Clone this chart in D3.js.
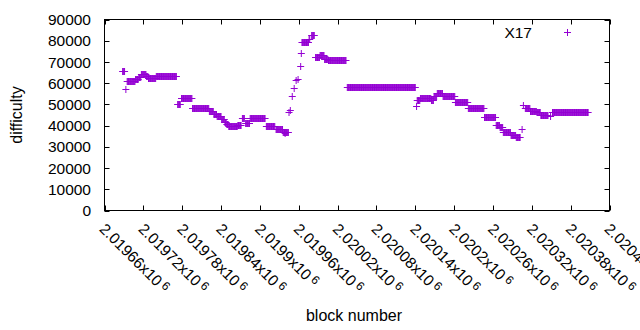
<!DOCTYPE html>
<html>
<head>
<meta charset="utf-8">
<script src="https://cdn.jsdelivr.net/npm/d3@7"></script>
<style>
  body { margin: 0; background: #fff; }
  text { font-family: "Liberation Sans", Arial, sans-serif; fill: #000; }
</style>
</head>
<body>
<div id="chart"></div>
<script>
// runs of blocks sharing one difficulty: first block, last block, difficulty
const runStart = [2019688, 2019693, 2019695, 2019708, 2019713, 2019717, 2019725, 2019728, 2019740,
  2019773, 2019779, 2019796, 2019822, 2019829, 2019834, 2019841, 2019846, 2019849, 2019852,
  2019866, 2019873, 2019878, 2019885, 2019910, 2019925, 2019936, 2019939, 2019945, 2019947,
  2019950, 2019953, 2019956, 2019959, 2019963, 2019964, 2019965, 2019976, 2019980, 2019986,
  2019993, 2020000, 2020006, 2020035, 2020142, 2020143, 2020148, 2020165, 2020169, 2020174,
  2020183, 2020202, 2020222, 2020247, 2020265, 2020271, 2020276, 2020288, 2020296, 2020305,
  2020307, 2020310, 2020318, 2020328, 2020334, 2020349, 2020352];
const runEnd = [2019691, 2019693, 2019707, 2019712, 2019716, 2019724, 2019727, 2019739, 2019771,
  2019777, 2019795, 2019821, 2019828, 2019833, 2019840, 2019845, 2019848, 2019851, 2019865,
  2019871, 2019876, 2019884, 2019908, 2019923, 2019935, 2019944, 2019939, 2019945, 2019947,
  2019950, 2019953, 2019956, 2019959, 2019963, 2019964, 2019975, 2019977, 2019984, 2019992,
  2019999, 2020005, 2020033, 2020140, 2020142, 2020147, 2020164, 2020168, 2020173, 2020182,
  2020201, 2020221, 2020246, 2020264, 2020270, 2020275, 2020287, 2020295, 2020302, 2020305,
  2020307, 2020317, 2020327, 2020333, 2020345, 2020349, 2020407];
const runDifficulty = [65500, 57300, 61000, 62000, 63000, 64300, 63300, 62300, 63200,
  50100, 52900, 48200, 47000, 45700, 44300, 43000, 41800, 40700, 39800,
  40500, 43500, 41200, 43500, 39900, 38200, 37200, 36600, 46600, 47400,
  54100, 57600, 61500, 62100, 67900, 74000, 79200, 80800, 82600, 72100,
  73200, 71500, 70700, 58100, 49300, 52100, 52900, 52200, 54000, 55300,
  53900, 51000, 48200, 44000, 40400, 39300, 37200, 35700, 34400, 38600,
  49600, 48200, 47100, 46200, 45200, 44300, 46300];

const xTicks = [2019660, 2019720, 2019780, 2019840, 2019900, 2019960, 2020020, 2020080,
  2020140, 2020200, 2020260, 2020320, 2020380, 2020440];
const yTicks = [0, 10000, 20000, 30000, 40000, 50000, 60000, 70000, 80000, 90000];
const seriesName = "X17";

const width = 640, height = 330;
const margin = { top: 19.5, right: 30.5, bottom: 119.5, left: 104.5 };
const color = "#9400d3";
const fontSize = 15.5;

const svg = d3.select("#chart").append("svg")
  .attr("width", width).attr("height", height);

const x = d3.scaleLinear()
  .domain([xTicks[0], xTicks[xTicks.length - 1]])
  .range([margin.left, width - margin.right]);
const y = d3.scaleLinear()
  .domain([0, 90000])
  .range([height - margin.bottom, margin.top]);

// one point per block of each run
const points = [];
runStart.forEach((s, i) => {
  for (let b = s; b <= runEnd[i]; b++) points.push([b, runDifficulty[i]]);
});

const tick = 5;
const axes = svg.append("g").attr("stroke", "#000").attr("stroke-width", 1);
yTicks.forEach((t) => {
  const yy = Math.round(y(t)) + 0.5;
  axes.append("line").attr("x1", x.range()[0]).attr("x2", x.range()[0] + tick).attr("y1", yy).attr("y2", yy);
  axes.append("line").attr("x1", x.range()[1]).attr("x2", x.range()[1] - tick).attr("y1", yy).attr("y2", yy);
});
xTicks.forEach((t) => {
  const xx = Math.round(x(t)) + 0.5;
  axes.append("line").attr("x1", xx).attr("x2", xx).attr("y1", y.range()[0]).attr("y2", y.range()[0] - tick);
  axes.append("line").attr("x1", xx).attr("x2", xx).attr("y1", y.range()[1]).attr("y2", y.range()[1] + tick);
});

svg.selectAll(".ylab").data(yTicks).join("text")
  .attr("class", "ylab")
  .attr("x", 91).attr("y", (d) => y(d))
  .attr("dy", "0.36em")
  .attr("text-anchor", "end")
  .attr("font-size", fontSize)
  .text((d) => d);

const xlab = svg.selectAll(".xlab").data(xTicks).join("text")
  .attr("class", "xlab")
  .attr("font-size", fontSize)
  .attr("transform", (d) => `translate(${x(d) + 2},222) rotate(45)`)
  .attr("dy", "0.72em");
xlab.append("tspan").text((d) => (d / 1e6).toFixed(5).replace(/0+$/, "") + "x10");
xlab.append("tspan").attr("dx", 3).attr("dy", -4).attr("font-size", 12).text("6");

// frame
svg.append("rect")
  .attr("x", x.range()[0]).attr("y", y.range()[1])
  .attr("width", x.range()[1] - x.range()[0])
  .attr("height", y.range()[0] - y.range()[1])
  .attr("fill", "none").attr("stroke", "#000");

const plus = (cx, cy) => `M${cx - 3.5},${cy}H${cx + 3.5}M${cx},${cy - 3.5}V${cy + 3.5}`;

svg.append("path")
  .attr("d", points.map((p) => plus(x(p[0]), Math.round(y(p[1])) + 0.5)).join(""))
  .attr("stroke", color).attr("stroke-width", 1).attr("fill", "none");

// legend
svg.append("text").attr("x", 532).attr("y", 32).attr("dy", "0.36em")
  .attr("text-anchor", "end").attr("font-size", fontSize).text(seriesName);
svg.append("path").attr("d", plus(567.5, 32.5))
  .attr("stroke", color).attr("stroke-width", 1);

svg.append("text")
  .attr("transform", "translate(22,115) rotate(-90)")
  .attr("text-anchor", "middle").attr("font-size", fontSize + 0.5)
  .text("difficulty");
svg.append("text")
  .attr("x", 354).attr("y", 321)
  .attr("text-anchor", "middle").attr("font-size", fontSize + 0.5)
  .text("block number");
</script>
</body>
</html>
